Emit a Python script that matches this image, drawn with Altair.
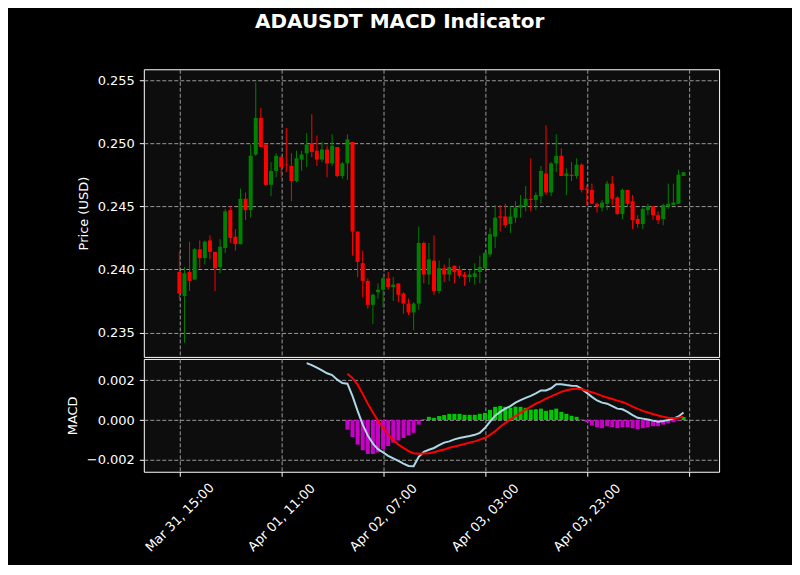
import altair as alt
import pandas as pd

# ---------------- data ----------------
first_candle = "2024-03-31 15:00"   # hourly candles
opens = [
    .2398, .2379, .2398, .2392, .2416, .2409, .2423, .2414, .2402, .2417,
    .2447, .2426, .2420, .2456, .2447, .2491, .2520, .2499, .2467, .2478,
    .2489, .2483, .2482, .2470, .2487, .2492, .2500, .2494, .2487, .2495,
    .2484, .2497, .2474, .2484, .2501, .2430, .2405, .2391, .2372, .2382,
    .2384, .2393, .2386, .2389, .2381, .2373, .2366, .2373, .2421, .2396,
    .2407, .2383, .2401, .2396, .2403, .2400, .2396, .2394, .2394, .2398,
    .2401, .2412, .2426, .2442, .2442, .2436, .2441, .2449, .2450, .2456,
    .2455, .2458, .2476, .2461, .2484, .2490, .2474, .2475, .2474, .2483,
    .2464, .2463, .2452, .2449, .2452, .2468, .2457, .2444, .2463, .2454,
    .2440, .2436, .2447, .2450, .2443, .2440, .2450, .2451, .2452, .2474,
]
highs = [
    .2414, .2402, .2422, .2417, .2423, .2423, .2427, .2414, .2424, .2448,
    .2450, .2432, .2464, .2461, .2499, .2548, .2528, .2500, .2485, .2492,
    .2490, .2512, .2492, .2494, .2494, .2508, .2523, .2506, .2501, .2498,
    .2507, .2497, .2485, .2507, .2501, .2430, .2415, .2393, .2381, .2389,
    .2394, .2398, .2394, .2389, .2382, .2377, .2374, .2434, .2422, .2421,
    .2427, .2407, .2404, .2409, .2403, .2403, .2398, .2400, .2405, .2411,
    .2414, .2433, .2451, .2451, .2452, .2450, .2454, .2459, .2466, .2488,
    .2461, .2482, .2514, .2485, .2507, .2496, .2480, .2485, .2488, .2484,
    .2467, .2468, .2453, .2455, .2470, .2474, .2458, .2464, .2463, .2459,
    .2443, .2449, .2452, .2450, .2446, .2452, .2468, .2468, .2479, .2477,
]
lows = [
    .2376, .2342, .2383, .2392, .2401, .2404, .2408, .2383, .2397, .2413,
    .2421, .2415, .2420, .2439, .2441, .2490, .2497, .2466, .2458, .2473,
    .2473, .2477, .2454, .2469, .2478, .2481, .2489, .2482, .2485, .2473,
    .2482, .2473, .2472, .2471, .2411, .2394, .2378, .2369, .2357, .2377,
    .2370, .2384, .2375, .2374, .2365, .2364, .2352, .2368, .2389, .2388,
    .2380, .2381, .2390, .2391, .2389, .2393, .2387, .2390, .2388, .2389,
    .2401, .2410, .2417, .2430, .2433, .2429, .2437, .2441, .2446, .2446,
    .2447, .2452, .2459, .2458, .2477, .2474, .2459, .2470, .2472, .2461,
    .2451, .2452, .2445, .2446, .2447, .2451, .2443, .2440, .2450, .2432,
    .2433, .2432, .2443, .2439, .2436, .2435, .2448, .2451, .2452, .2474,
]
closes = [
    .2381, .2397, .2391, .2416, .2409, .2422, .2414, .2401, .2418, .2446,
    .2425, .2420, .2456, .2447, .2490, .2520, .2497, .2467, .2478, .2490,
    .2481, .24825, .2470, .2488, .2491, .2499, .2493, .2487, .2495, .2484,
    .2498, .2474, .2484, .2503, .2430, .2406, .2391, .2372, .2380, .2384,
    .2393, .2386, .2388, .2380, .2373, .2366, .2373, .2421, .2396, .2408,
    .2383, .2401, .2396, .2402, .2398, .2395, .2394, .2396, .2397, .2402,
    .2413, .2428, .2441, .2441, .2435, .2442, .2449, .2451, .2456, .2455,
    .2459, .2478, .2461, .2484, .2490, .2474, .2476, .2474, .2483, .2463,
    .2463, .2452, .2450, .2453, .2468, .2456, .2444, .2463, .2452, .2439,
    .2436, .2448, .2450, .2443, .2439, .2451, .2452, .2453, .2475, .2477,
]

macd_start = 25   # first candle index with a MACD value
macd_vals = [
    0.00285, 0.00275, 0.00262, 0.00248, 0.00234, 0.00225, 0.00202, 0.00185,
    0.00182, 0.00120, 0.00046, -0.00023, -0.00077, -0.00118, -0.00146, -0.00162,
    -0.00179, -0.00192, -0.00205, -0.00218, -0.00230, -0.00231, -0.00184, -0.00159,
    -0.00149, -0.00140, -0.00126, -0.00113, -0.00107, -0.00097, -0.00090, -0.00085,
    -0.00080, -0.00074, -0.00064, -0.00040, -0.00008, 0.00022, 0.00041, 0.00057,
    0.00070, 0.00087, 0.00100, 0.00111, 0.00121, 0.00133, 0.00148, 0.00148,
    0.00159, 0.00179, 0.00179, 0.00175, 0.00172, 0.00171, 0.00156, 0.00136,
    0.00116, 0.00098, 0.00087, 0.00082, 0.00070, 0.00057, 0.00054, 0.00041,
    0.00025, 0.00011, 0.00007, 0.00003, -0.00003, -0.00008, -0.00005, 0.00000,
    0.00007, 0.00018, 0.00038,
]
signal_start = 33
signal_vals = [
    0.00231, 0.00210, 0.00177, 0.00131, 0.00082, 0.00038, -0.00002, -0.00039,
    -0.00072, -0.00100, -0.00123, -0.00139, -0.00156, -0.00166, -0.00169, -0.00167,
    -0.00166, -0.00161, -0.00154, -0.00148, -0.00139, -0.00133, -0.00126, -0.00120,
    -0.00113, -0.00107, -0.00098, -0.00089, -0.00074, -0.00056, -0.00034, -0.00015,
    0.00003, 0.00020, 0.00036, 0.00052, 0.00067, 0.00082, 0.00093, 0.00107,
    0.00118, 0.00130, 0.00141, 0.00149, 0.00154, 0.00158, 0.00154, 0.00146,
    0.00139, 0.00131, 0.00121, 0.00113, 0.00105, 0.00097, 0.00090, 0.00080,
    0.00067, 0.00056, 0.00046, 0.00038, 0.00030, 0.00023, 0.00016, 0.00011,
    0.00010, 0.00011, 0.00016,
]
hist_vals = [
    -0.00048, -0.00085, -0.00123, -0.00151, -0.00170, -0.00170, -0.00162, -0.00146,
    -0.00130, -0.00113, -0.00102, -0.00090, -0.00077, -0.00064, -0.00023, 0.00003,
    0.00016, 0.00011, 0.00020, 0.00025, 0.00031, 0.00031, 0.00031, 0.00026,
    0.00026, 0.00026, 0.00031, 0.00036, 0.00051, 0.00066, 0.00070, 0.00066,
    0.00062, 0.00067, 0.00066, 0.00061, 0.00052, 0.00054, 0.00057, 0.00046,
    0.00051, 0.00057, 0.00041, 0.00031, 0.00021, 0.00016, 0.00002, -0.00011,
    -0.00028, -0.00036, -0.00041, -0.00031, -0.00036, -0.00041, -0.00036, -0.00036,
    -0.00041, -0.00046, -0.00041, -0.00036, -0.00031, -0.00031, -0.00023, -0.00016,
    -0.00011, -0.00003, 0.00015,
]

tick_times = ["2024-03-31 15:00", "2024-04-01 11:00", "2024-04-02 07:00",
              "2024-04-03 03:00", "2024-04-03 23:00", "2024-04-04 19:00"]
tick_labels = ["Mar 31, 15:00", "Apr 01, 11:00", "Apr 02, 07:00",
               "Apr 03, 03:00", "Apr 03, 23:00", ""]
x_range = ["2024-03-31 09:00", "2024-04-05 00:00"]
price_ticks = [0.235, 0.240, 0.245, 0.250, 0.255]
price_range = [0.23308, 0.25585]
macd_ticks = [-0.002, 0.000, 0.002]
macd_range = [-0.00259, 0.00306]

# ---------------- tables ----------------
def ms(t):
    return int(pd.Timestamp(t, tz="UTC").value // 10**6)

times = pd.date_range(first_candle, periods=len(opens), freq="h", tz="UTC")
iso = [t.strftime("%Y-%m-%dT%H:%M:%SZ") for t in times]

candles = pd.DataFrame({
    "time": iso, "open": opens, "high": highs, "low": lows, "close": closes,
})
candles["dir"] = ["up" if c >= o else "down" for o, c in zip(opens, closes)]

macd_df = pd.DataFrame({"time": iso[macd_start:macd_start + len(macd_vals)], "v": macd_vals})
sig_df = pd.DataFrame({"time": iso[signal_start:signal_start + len(signal_vals)], "v": signal_vals})
hist_df = pd.DataFrame({"time": iso[signal_start:signal_start + len(hist_vals)], "v": hist_vals})

tick_ms = [ms(t) for t in tick_times]
label_expr = "".join(
    f"abs(time(datum.value) - {m}) < 1000 ? '{lab}' : " for m, lab in zip(tick_ms, tick_labels)
) + "''"

FONT = "DejaVu Sans"
x_scale = alt.Scale(type="utc", domain=[ms(x_range[0]), ms(x_range[1])], nice=False)

x_top = alt.X("time:T", scale=x_scale,
              axis=alt.Axis(values=tick_ms, labels=False, ticks=False, domain=False,
                            grid=True, title=None, minExtent=0, maxExtent=0))
x_bottom = alt.X("time:T", scale=x_scale,
                 axis=alt.Axis(values=tick_ms, labelExpr=label_expr, labelAngle=315,
                               labelAlign="center", labelBaseline="middle",
                               labelPadding=41, tickSize=4.5, domain=False,
                               grid=True, title=None))

price_scale = alt.Scale(domain=price_range, nice=False, zero=False)
price_axis = alt.Axis(values=price_ticks, format=".3f", title="Price (USD)", grid=True)

color_dir = alt.Color("dir:N", scale=alt.Scale(domain=["up", "down"], range=["#008000", "#ff0000"]),
                      legend=None)

wicks = alt.Chart(candles).mark_rule(strokeWidth=1).encode(
    x=x_top,
    y=alt.Y("low:Q", scale=price_scale, axis=price_axis),
    y2="high:Q",
    color=color_dir,
)
bodies = alt.Chart(candles).mark_bar(size=4).encode(
    x=x_top,
    y=alt.Y("open:Q", scale=price_scale, axis=price_axis),
    y2="close:Q",
    color=color_dir,
)
price_panel = alt.layer(wicks, bodies).properties(width=576, height=288)

macd_scale = alt.Scale(domain=macd_range, nice=False, zero=False)
macd_axis = alt.Axis(values=macd_ticks, format=".3f", title="MACD", grid=True)

hist = alt.Chart(hist_df).mark_bar(size=4).encode(
    x=x_bottom,
    y=alt.Y("v:Q", scale=macd_scale, axis=macd_axis),
    y2=alt.datum(0),
    color=alt.condition(alt.datum.v >= 0, alt.value("#00c800"), alt.value("#c800c8")),
)
macd_line = alt.Chart(macd_df).mark_line(color="#add8e6", strokeWidth=2).encode(
    x=x_bottom,
    y=alt.Y("v:Q", scale=macd_scale, axis=macd_axis),
)
sig_line = alt.Chart(sig_df).mark_line(color="#ff0000", strokeWidth=2).encode(
    x=x_bottom,
    y=alt.Y("v:Q", scale=macd_scale, axis=macd_axis),
)
macd_panel = alt.layer(hist, macd_line, sig_line).properties(width=576, height=113)

chart = alt.vconcat(price_panel, macd_panel, spacing=0).properties(
    title=alt.TitleParams("ADAUSDT MACD Indicator", color="white", fontSize=20,
                          fontWeight="bold", font=FONT, anchor="middle", offset=37, dx=7),
    padding={"left": 57, "top": 3, "right": 72, "bottom": 9},
    background="#000000",
).configure_view(
    fill="#0d0d0d", stroke="white", strokeWidth=1,
).configure_axis(
    labelColor="white", labelFont=FONT, labelFontSize=13,
    titleColor="white", titleFont=FONT, titleFontSize=13, titleFontWeight="normal",
    titlePadding=7, tickColor="white", tickSize=4.5, labelPadding=5,
    gridColor="#9a9a9a", gridDash=[4, 2], gridWidth=1, gridOpacity=1,
    domain=False,
).configure_concat(spacing=0)

chart.save("out.html", embed_options={"renderer": "svg", "actions": False})
